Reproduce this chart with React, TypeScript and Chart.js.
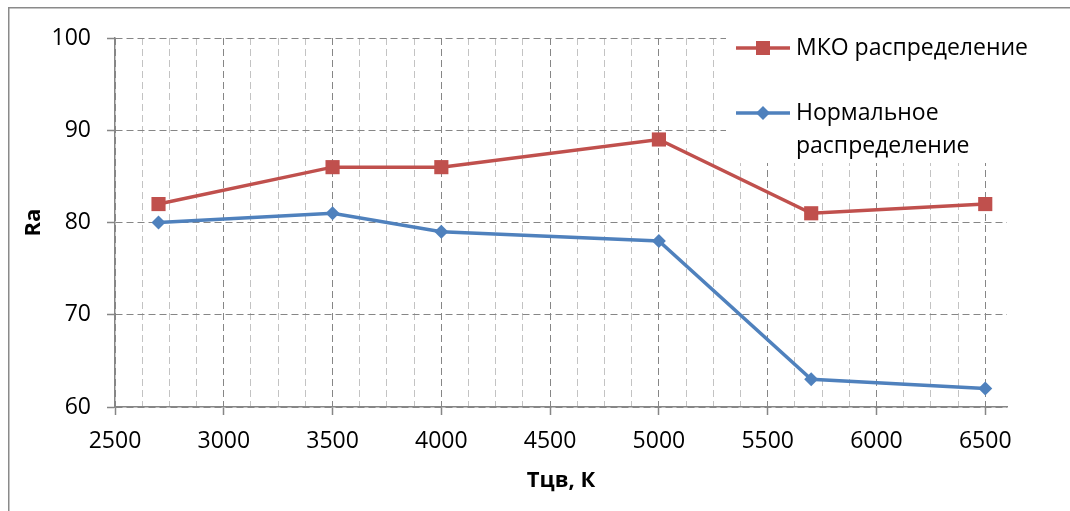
import React, { useEffect, useRef } from 'react';
import { Chart, registerables } from 'chart.js';

Chart.register(...registerables);

// ---- data ----
const temperatures = [2700, 3500, 4000, 5000, 5700, 6500];
const mkoValues = [82, 86, 86, 89, 81, 82];
const normalValues = [80, 81, 79, 78, 63, 62];
const seriesLabels = ['МКО распределение', 'Нормальное распределение'];
const xTitle = 'Тцв, К';
const yTitle = 'Ra';
const xMin = 2500;
const xMax = 6600;
const xLastTick = 6500;
const xMajor = 500;
const xMinor = 125;
const yMin = 60;
const yMax = 100;
const yMajor = 10;

// ---- styles ----
const FONT = '"Open Sans", sans-serif';
const RED = '#C0504D';
const BLUE = '#4F81BD';
const MAJOR_GRID = '#868686';
const MINOR_GRID = '#C3C3C3';
const AXIS = '#868686';

const W = 1070;
const H = 511;

function wrapText(ctx: CanvasRenderingContext2D, text: string, maxWidth: number): string[] {
  const words = text.split(' ');
  const lines: string[] = [];
  let cur = '';
  for (const w of words) {
    const test = cur ? cur + ' ' + w : w;
    if (cur && ctx.measureText(test).width > maxWidth) {
      lines.push(cur);
      cur = w;
    } else {
      cur = test;
    }
  }
  if (cur) lines.push(cur);
  return lines;
}

const framePlugin = {
  id: 'frame',
  beforeDraw(chart: any) {
    const ctx = chart.ctx;
    ctx.save();
    ctx.fillStyle = '#ffffff';
    ctx.fillRect(0, 0, chart.width, chart.height);
    ctx.strokeStyle = '#8a8a8a';
    ctx.lineWidth = 1.5;
    ctx.strokeRect(8.75, 7.75, chart.width + 40, chart.height + 40);
    ctx.restore();
  },
  beforeDatasetsDraw(chart: any) {
    const ctx = chart.ctx;
    ctx.save();
    ctx.fillStyle = '#ffffff';
    ctx.fillRect(726, 28, 320, 135);
    ctx.restore();
  },
  afterDraw(chart: any) {
    const ctx = chart.ctx;
    ctx.save();
    ctx.font = `23px ${FONT}`;
    ctx.textBaseline = 'middle';
    ctx.textAlign = 'left';
    let y = 48;
    chart.data.datasets.forEach((ds: any) => {
      ctx.strokeStyle = ds.borderColor;
      ctx.lineWidth = 3.5;
      ctx.beginPath();
      ctx.moveTo(736, y);
      ctx.lineTo(790, y);
      ctx.stroke();
      ctx.fillStyle = ds.backgroundColor;
      ctx.beginPath();
      if (ds.pointStyle === 'rect') {
        ctx.rect(763 - 7, y - 7, 14, 14);
      } else {
        const r = 7;
        ctx.moveTo(763, y - r);
        ctx.lineTo(763 + r, y);
        ctx.lineTo(763, y + r);
        ctx.lineTo(763 - r, y);
        ctx.closePath();
      }
      ctx.fill();
      ctx.fillStyle = '#000000';
      const lines = wrapText(ctx, ds.label, 260);
      lines.forEach((ln, i) => ctx.fillText(ln, 796, y + i * 33));
      y += 65;
    });
    ctx.restore();
  },
};

export default function App() {
  const ref = useRef<HTMLCanvasElement>(null);

  useEffect(() => {
    if (!ref.current) return;
    const chart = new Chart(ref.current, {
      type: 'line',
      data: {
        datasets: [
          {
            label: seriesLabels[0],
            data: temperatures.map((t, i) => ({ x: t, y: mkoValues[i] })),
            borderColor: RED,
            backgroundColor: RED,
            borderWidth: 3.5,
            pointStyle: 'rect',
            pointRadius: 10,
            pointBorderWidth: 0,
            pointBackgroundColor: RED,
            pointBorderColor: RED,
            tension: 0,
          },
          {
            label: seriesLabels[1],
            data: temperatures.map((t, i) => ({ x: t, y: normalValues[i] })),
            borderColor: BLUE,
            backgroundColor: BLUE,
            borderWidth: 3.5,
            pointStyle: 'rectRot',
            pointRadius: 7,
            pointBorderWidth: 0,
            pointBackgroundColor: BLUE,
            pointBorderColor: BLUE,
            tension: 0,
          },
        ],
      },
      options: {
        responsive: false,
        animation: false,
        devicePixelRatio: 1,
        layout: { padding: { left: 0, top: 38, right: W - 1007, bottom: 0 } },
        plugins: {
          legend: { display: false },
          tooltip: { enabled: false },
        },
        scales: {
          x: {
            type: 'linear',
            min: xMin,
            max: xMax,
            afterBuildTicks: (scale: any) => {
              const ticks = [];
              for (let v = xMin; v <= xLastTick; v += xMinor) ticks.push({ value: v });
              scale.ticks = ticks;
            },
            afterFit: (scale: any) => {
              scale.height = H - 407;
            },
            ticks: {
              autoSkip: false,
              maxRotation: 0,
              padding: 13,
              color: '#000000',
              font: { family: FONT, size: 23 },
              callback: (v: any) => (Number(v) % xMajor === 0 ? String(v) : ''),
            },
            grid: {
              color: (c: any) => (c.tick && c.tick.value % xMajor === 0 ? MAJOR_GRID : MINOR_GRID),
              lineWidth: 1,
              tickLength: 8,
              tickColor: (c: any) => (c.tick && c.tick.value % xMajor === 0 ? AXIS : 'rgba(0,0,0,0)'),
              tickWidth: 1.5,
            },
            border: { display: true, color: AXIS, width: 1.5, dash: [7, 4] },
            title: {
              display: true,
              text: xTitle,
              color: '#000000',
              font: { family: FONT, size: 22, weight: 'bold' },
              padding: { top: 0, bottom: 17 },
            },
          },
          y: {
            type: 'linear',
            min: yMin,
            max: yMax,
            afterFit: (scale: any) => {
              scale.width = 115;
            },
            ticks: {
              stepSize: yMajor,
              padding: 16,
              color: '#000000',
              font: { family: FONT, size: 23 },
            },
            grid: {
              color: MAJOR_GRID,
              lineWidth: 1,
              tickLength: 8,
              tickColor: AXIS,
              tickWidth: 1.5,
            },
            border: { display: true, color: AXIS, width: 1.5, dash: [7, 4] },
            title: {
              display: true,
              text: yTitle,
              color: '#000000',
              font: { family: FONT, size: 22, weight: 'bold' },
              padding: { top: 21, bottom: 0 },
            },
          },
        },
      },
      plugins: [framePlugin],
    });
    return () => chart.destroy();
  }, []);

  return (
    <div style={{ position: 'absolute', left: 0, top: 0, width: W, height: H }}>
      <canvas ref={ref} width={W} height={H} />
    </div>
  );
}
